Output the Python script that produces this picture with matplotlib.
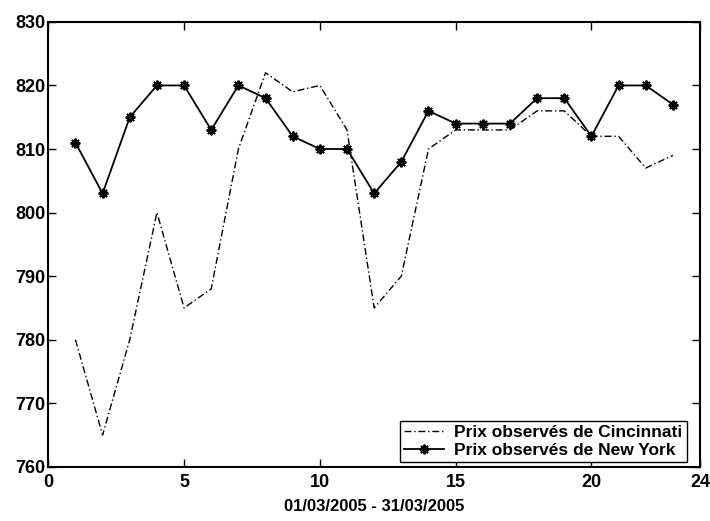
import matplotlib
matplotlib.use("Agg")
import matplotlib.pyplot as plt

plt.rcParams["font.family"] = ["Liberation Sans", "DejaVu Sans"]
plt.rcParams["font.weight"] = "bold"

jours = list(range(1, 24))
cincinnati = [780, 765, 780, 800, 785, 788, 810, 822, 819, 820, 813, 785,
              790, 810, 813, 813, 813, 816, 816, 812, 812, 807, 809]
new_york = [811, 803, 815, 820, 820, 813, 820, 818, 812, 810, 810, 803,
            808, 816, 814, 814, 814, 818, 818, 812, 820, 820, 817]

fig = plt.figure(figsize=(7.1, 5.21), dpi=100)
ax = fig.add_axes([0.068, 0.104, 0.918, 0.854])

ax.plot(jours, cincinnati, color="black", lw=1.0, dashes=(5, 2, 1, 2),
        label="Prix observés de Cincinnati")
ax.plot(jours, new_york, color="black", lw=1.3, marker=(8, 2, 0), ms=7, mew=1.4,
        label="Prix observés de New York")

ax.set_xlim(0, 24)
ax.set_ylim(760, 830)
ax.set_xticks([0, 5, 10, 15, 20, 24])
ax.set_yticks(range(760, 831, 10))
ax.tick_params(direction="in", top=True, right=True, length=6, width=1,
               labelsize=13)
ax.tick_params(axis="x", pad=5)
ax.tick_params(axis="y", pad=2)
for lab in ax.get_xticklabels() + ax.get_yticklabels():
    lab.set_fontweight("bold")
for s in ax.spines.values():
    s.set_linewidth(1.5)

ax.set_xlabel("01/03/2005 - 31/03/2005", fontsize=12, fontweight="bold", labelpad=6)

leg = ax.legend(loc="lower right", bbox_to_anchor=(0.98, 0.01), fontsize=12.5,
                fancybox=False, framealpha=1, edgecolor="black",
                handlelength=2.3, borderaxespad=0, handletextpad=0.6,
                borderpad=0.25, labelspacing=0.15)
leg.get_frame().set_linewidth(1)
for t in leg.get_texts():
    t.set_fontweight("bold")

fig.savefig("out.png", dpi=100)
